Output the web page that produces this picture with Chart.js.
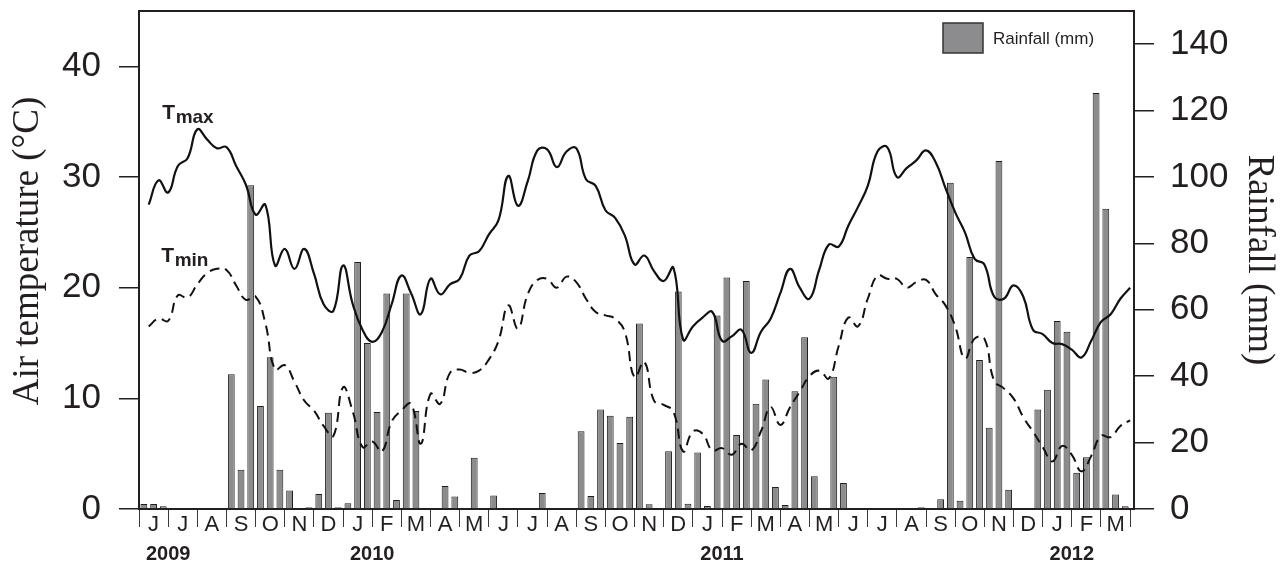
<!DOCTYPE html>
<html>
<head>
<meta charset="utf-8">
<title>Air temperature and rainfall, 2009–2012</title>
<script src="https://cdn.jsdelivr.net/npm/chart.js@4.4.1/dist/chart.umd.min.js"></script>
<style>
  html, body { margin: 0; padding: 0; background: #ffffff; }
  #wrap { width: 1284px; height: 566px; }
</style>
</head>
<body>
<div id="wrap"><canvas id="chart" width="1284" height="566"></canvas></div>
<script>
// Month initials, June 2009 to March 2012 (three dekads per month)
const months = ['J','J','A','S','O','N','D',
                'J','F','M','A','M','J','J','A','S','O','N','D',
                'J','F','M','A','M','J','J','A','S','O','N','D',
                'J','F','M'];
const years = ['2009', '2010', '2011', '2012'];
// month boundary (count of months from June 2009) under which each year label sits
const yearAtMonth = [1, 8, 20, 32];

// Dekadal rainfall (mm)
const rainfall = [
  1.5, 1.5, 0.8,    0, 0, 0,          0, 0, 0,          40.6, 11.8, 97.5,
  31, 45.7, 11.8,   5.6, 0, 0.5,      4.5, 29, 0.5,     1.7, 74.4, 50,
  29.2, 64.9, 2.7,  64.9, 29.5, 0,    0, 6.9, 3.8,      0, 15.4, 0,
  4.1, 0, 0,        0, 0, 4.8,        0, 0, 0,          23.4, 3.9, 30,
  28.1, 19.9, 27.8, 55.9, 1.4, 0,     17.4, 65.5, 1.6,  17, 0.9, 58.3,
  69.7, 22.3, 68.7, 31.7, 39, 6.6,    1.2, 35.5, 51.7,  9.9, 0, 39.8,
  7.8, 0, 0,        0, 0, 0,          0, 0, 0.5,        0, 2.9, 98.3,
  2.5, 75.9, 44.9,  24.5, 104.8, 5.8, 0, 0, 30,         35.9, 56.6, 53.4,
  10.9, 15.6, 125.3, 90.4, 4.4, 0.8
];

// Dekadal mean maximum air temperature (°C)
const tmax = [
  27.5, 29.7, 28.6, 31.0, 31.7, 34.3, 33.4, 32.6, 32.7, 31.0,
  29.3, 26.6, 27.5, 22.0, 23.5, 21.7, 23.5, 21.3, 18.5, 17.9,
  22.0, 18.5, 16.2, 15.1, 16.0, 18.5, 21.1, 19.5, 17.6, 20.8,
  19.4, 20.3, 20.8, 22.9, 23.3, 24.8, 26.1, 30.1, 27.4, 29.6,
  32.4, 32.5, 30.9, 32.3, 32.6, 29.8, 29.2, 27.0, 26.3, 24.7,
  22.1, 22.9, 21.5, 20.6, 21.8, 15.3, 16.5, 17.3, 17.8, 15.2,
  15.6, 16.2, 14.1, 16.0, 17.2, 19.5, 21.7, 20.0, 19.0, 21.6,
  23.9, 23.7, 25.6, 27.3, 29.2, 32.3, 32.7, 30.0, 30.8, 31.5,
  32.4, 31.3, 29.0, 26.8, 25.0, 22.6, 22.1, 19.2, 19.0, 20.2,
  19.2, 16.2, 15.8, 15.0, 14.9, 14.4, 13.7, 15.2, 16.9, 17.6,
  19.0, 20.0
];

// Dekadal mean minimum air temperature (°C)
const tmin = [
  16.5, 17.2, 17.0, 19.3, 19.1, 20.3, 21.3, 21.7, 21.6, 20.2,
  18.9, 19.2, 16.8, 12.6, 13.0, 11.5, 9.8, 8.9, 7.5, 6.6,
  11.0, 8.8, 5.6, 6.1, 5.2, 7.9, 8.9, 9.5, 5.9, 10.4,
  9.5, 12.3, 12.6, 12.3, 12.5, 13.5, 15.2, 18.4, 16.3, 19.4,
  20.7, 20.8, 20.0, 21.0, 20.5, 19.0, 17.8, 17.5, 17.2, 16.0,
  11.9, 13.3, 9.8, 9.4, 8.8, 5.2, 7.0, 6.8, 5.3, 5.5,
  4.9, 5.9, 5.3, 7.0, 9.2, 7.6, 9.2, 10.6, 12.0, 12.5,
  11.8, 14.7, 17.3, 16.5, 19.0, 21.1, 20.8, 20.8, 20.0, 20.5,
  20.7, 19.4, 18.4, 16.5, 13.6, 15.4, 15.4, 11.6, 10.9, 10.0,
  8.3, 7.0, 5.6, 4.3, 5.7, 4.9, 3.4, 4.8, 6.6, 6.5,
  7.5, 8.0
];

const tempTicks = [0, 10, 20, 30, 40];
const rainTicks = [0, 20, 40, 60, 80, 100, 120, 140];

const INK = '#231f20';
const SANS = '"Liberation Sans", Arial, Helvetica, sans-serif';
const SERIF = '"Liberation Serif", "Times New Roman", serif';
const DEKADS_PER_MONTH = 3;
const monthBounds = Array.from({ length: months.length + 1 }, (_, k) => k * DEKADS_PER_MONTH);

// bars sit in the middle of each dekad, temperature points at the end of each dekad
const rainPoints = rainfall.map((v, i) => ({ x: i + 0.5, y: v }));
const tmaxPoints = tmax.map((v, i) => ({ x: i + 1, y: v }));
const tminPoints = tmin.map((v, i) => ({ x: i + 1, y: v }));

// series name with a subscript, e.g. T + "max"
function drawSubscripted(ctx, main, sub, x, y) {
  ctx.font = 'bold 21px ' + SANS;
  ctx.textAlign = 'left';
  ctx.textBaseline = 'alphabetic';
  ctx.fillText(main, x, y);
  const w = ctx.measureText(main).width;
  ctx.font = 'bold 19px ' + SANS;
  ctx.fillText(sub, x + w + 0.5, y + 4);
}

const decorations = {
  id: 'decorations',
  afterDraw(chart) {
    const { ctx, chartArea: a, scales: { x, y } } = chart;
    ctx.save();
    ctx.fillStyle = INK;
    ctx.strokeStyle = INK;

    // closing line along the top of the plot
    ctx.lineWidth = 2;
    ctx.beginPath();
    ctx.moveTo(a.left - 1, a.top);
    ctx.lineTo(a.right + 1, a.top);
    ctx.stroke();

    // left axis title, set slightly above the middle of the axis
    ctx.save();
    ctx.translate(a.left - 110.5, (a.top + a.bottom) / 2 - 9);
    ctx.rotate(-Math.PI / 2);
    ctx.font = '37px ' + SERIF;
    ctx.textAlign = 'center';
    ctx.textBaseline = 'middle';
    ctx.fillText('Air temperature (°C)', 0, 0);
    ctx.restore();

    // year labels under the month initials
    ctx.font = 'bold 20px ' + SANS;
    ctx.textAlign = 'center';
    ctx.textBaseline = 'alphabetic';
    years.forEach((yr, i) => {
      ctx.fillText(yr, x.getPixelForValue(yearAtMonth[i] * DEKADS_PER_MONTH), a.bottom + 51);
    });

    // series labels beside the curves
    drawSubscripted(ctx, 'T', 'max', x.getPixelForValue(2.4), y.getPixelForValue(35.2));
    drawSubscripted(ctx, 'T', 'min', x.getPixelForValue(2.3), y.getPixelForValue(22.3));

    // rainfall legend in the upper right corner
    const ds = chart.data.datasets[0];
    const bx = a.right - 191, by = a.top + 12;
    ctx.fillStyle = ds.backgroundColor;
    ctx.fillRect(bx, by, 40, 30);
    ctx.lineWidth = 1.5;
    ctx.strokeStyle = '#333333';
    ctx.strokeRect(bx, by, 40, 30);
    ctx.fillStyle = INK;
    ctx.font = '17px ' + SANS;
    ctx.textAlign = 'left';
    ctx.textBaseline = 'middle';
    ctx.fillText(ds.label, bx + 50, by + 16);
    ctx.restore();
  }
};

new Chart(document.getElementById('chart'), {
  data: {
    datasets: [
      {
        type: 'bar',
        label: 'Rainfall (mm)',
        data: rainPoints,
        yAxisID: 'y1',
        backgroundColor: '#8c8c8e',
        borderColor: '#1e1e1e',
        borderWidth: 1,
        barPercentage: 0.7,
        categoryPercentage: 1.0,
        order: 2
      },
      {
        type: 'line',
        label: 'Tmax',
        data: tmaxPoints,
        yAxisID: 'y',
        borderColor: '#111111',
        borderWidth: 2.2,
        pointRadius: 0,
        tension: 0.45,
        fill: false,
        order: 1
      },
      {
        type: 'line',
        label: 'Tmin',
        data: tminPoints,
        yAxisID: 'y',
        borderColor: '#111111',
        borderWidth: 2,
        borderDash: [10, 6],
        pointRadius: 0,
        tension: 0.45,
        fill: false,
        order: 1
      }
    ]
  },
  options: {
    responsive: false,
    animation: false,
    devicePixelRatio: 1,
    layout: { padding: { top: 11, right: 0, bottom: 0, left: 0 } },
    plugins: {
      legend: { display: false },
      tooltip: { enabled: false }
    },
    scales: {
      x: {
        type: 'linear',
        offset: false,
        min: 0,
        max: months.length * DEKADS_PER_MONTH + 0.4,
        afterBuildTicks(scale) { scale.ticks = monthBounds.map(v => ({ value: v })); },
        afterFit(scale) { scale.height = 57; scale.paddingLeft = 0; scale.paddingRight = 0; },
        ticks: {
          autoSkip: false,
          maxRotation: 0,
          minRotation: 0,
          labelOffset: 14.6,
          padding: -15,
          color: INK,
          font: { family: SANS, size: 22 },
          callback: (value, index) => (index < months.length ? months[index] : '')
        },
        grid: { offset: false, drawOnChartArea: false, tickLength: 18, color: '#3a3a3a', lineWidth: 1 },
        border: { display: true, color: INK, width: 2 }
      },
      y: {
        position: 'left',
        min: 0,
        max: 45,
        afterBuildTicks(scale) { scale.ticks = tempTicks.map(v => ({ value: v })); },
        afterFit(scale) { scale.width = 139; scale.paddingTop = 0; scale.paddingBottom = 0; },
        ticks: { color: INK, padding: 18, font: { family: SANS, size: 35 } },
        grid: { drawOnChartArea: false, tickLength: 20, color: INK, lineWidth: 1.5 },
        border: { display: true, color: INK, width: 2 }
      },
      y1: {
        position: 'right',
        min: 0,
        max: 150,
        afterBuildTicks(scale) { scale.ticks = rainTicks.map(v => ({ value: v })); },
        afterFit(scale) { scale.width = 150; scale.paddingTop = 0; scale.paddingBottom = 0; },
        ticks: { color: INK, padding: 16, font: { family: SANS, size: 35 } },
        grid: { drawOnChartArea: false, tickLength: 20, color: INK, lineWidth: 1.5 },
        border: { display: true, color: INK, width: 2 },
        title: {
          display: true,
          text: 'Rainfall (mm)',
          color: INK,
          font: { family: SERIF, size: 37 },
          padding: { top: 3, bottom: 0 }
        }
      }
    }
  },
  plugins: [decorations]
});
</script>
</body>
</html>
